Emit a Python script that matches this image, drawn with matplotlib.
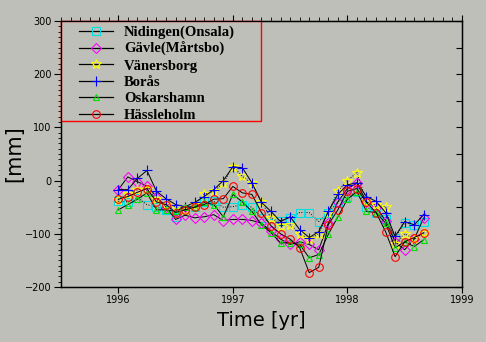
import numpy as np
import matplotlib
matplotlib.use('Agg')
import matplotlib.pyplot as plt
from matplotlib.ticker import MultipleLocator
from matplotlib.patches import Rectangle

# monthly samples, 1996.0 .. 1998.67
months = np.arange(33)
t = 1996 + months / 12.0

names = ['Nidingen(Onsala)', 'Gävle(Mårtsbo)', 'Vänersborg', 'Borås',
         'Oskarshamn', 'Hässleholm']

nidingen = [-39, -40, -32, -45, -50, -55, -68, -55, -50, -41, -39, -50, -49,
            -45, -50, -70, -80, -75, -70, -60, -60, -77, -60, -40, -30, -21,
            -49, -60, -73, -107, -79, -83, -77]
gavle = [-17, 7, -2, -10, -30, -50, -73, -65, -70, -68, -64, -75, -73, -73,
         -75, -80, -95, -110, -120, -115, -120, -130, -80, -40, -15, -5, -40,
         -50, -75, -115, -130, -110, -70]
vanersborg = [-36, -25, -17, -15, -35, -45, -49, -55, -45, -26, -20, -5, 26,
              8, -5, -40, -70, -85, -83, -100, -110, -100, -60, -20, 0, 15,
              -40, -45, -49, -120, -100, -110, -98]
boras = [-17, -17, 4, 19, -20, -34, -45, -49, -41, -30, -17, 0, 26, 24, -4,
         -41, -58, -77, -68, -92, -107, -96, -58, -26, -8, -4, -30, -39, -60,
         -105, -77, -83, -64]
oskarshamn = [-55, -45, -35, -23, -55, -55, -58, -49, -50, -41, -45, -68, -26,
              -40, -58, -83, -98, -117, -117, -120, -145, -139, -101, -68, -35,
              -21, -58, -60, -80, -126, -115, -124, -111]
hassleholm = [-35, -30, -22, -15, -40, -45, -60, -55, -50, -45, -35, -34, -11,
              -23, -26, -60, -85, -100, -110, -126, -173, -163, -83, -55, -20,
              -15, -41, -60, -96, -143, -115, -107, -98]

series = [nidingen, gavle, vanersborg, boras, oskarshamn, hassleholm]
colors = ['#00e0e0', '#ff00ff', '#ffff00', '#0000ff', '#00e000', '#ff0000']
markers = ['s', 'D', '*', '+', '^', 'o']
sizes = [5.5, 5, 7.5, 7.5, 5, 5.5]
styles = [':', '-', ':', '-', '-', '-']

bg = '#bebfb8'
fig = plt.figure(figsize=(4.86, 3.42), dpi=100, facecolor=bg)
ax = fig.add_axes([0.1255, 0.1608, 0.825, 0.7778], facecolor=bg)

for name, y, c, m, s, ls in zip(names, series, colors, markers, sizes, styles):
    ax.plot(t, y, color='black', lw=0.7, ls=ls)
    ax.plot(t, y, ls='none', marker=m, ms=s, mfc='none', mec=c, mew=0.8)
    ax.plot([], [], color='black', lw=0.9, marker=m, ms=s, mfc='none',
            mec=c, mew=0.8, label=name)

ax.set_xlim(1995.5, 1999)
ax.set_ylim(-200, 300)
ax.xaxis.set_major_locator(MultipleLocator(1))
ax.yaxis.set_major_locator(MultipleLocator(100))
ax.yaxis.set_minor_locator(MultipleLocator(10))
ax.xaxis.set_minor_locator(MultipleLocator(1 / 12))

ax.tick_params(axis='x', which='major', direction='out', length=4,
               labelsize=7, top=True, pad=2)
ax.tick_params(axis='x', which='minor', direction='out', length=3,
               bottom=False, top=True)
ax.tick_params(axis='y', which='major', direction='out', length=5,
               labelsize=7, right=False, pad=2)
ax.tick_params(axis='y', which='minor', direction='out', length=2.5,
               right=False)
for sp in ax.spines.values():
    sp.set_linewidth(1.0)

# right axis ticks pointing inward
ax2 = ax.twinx()
ax2.set_ylim(-200, 300)
ax2.yaxis.set_major_locator(MultipleLocator(50))
ax2.tick_params(axis='y', direction='in', length=4, labelright=False)

ax.set_xlabel('Time [yr]', fontsize=14, labelpad=4)
ax.set_ylabel('[mm]', fontsize=15, labelpad=0)

leg = ax.legend(loc='upper left', bbox_to_anchor=(0.035, 1.0),
                borderaxespad=0, frameon=False,
                prop={'family': 'Liberation Serif', 'weight': 'bold',
                      'size': 10.5},
                handlelength=2.3, handletextpad=0.75, labelspacing=0.22,
                borderpad=0.3, numpoints=1)
leg.set_zorder(5)

# red legend frame, 200 x 100 px from the upper left corner
box = Rectangle((0, 1 - 100 / 266), 200 / 401, 100 / 266,
                transform=ax.transAxes, facecolor=bg, edgecolor='red',
                lw=1.0, zorder=4, clip_on=False)
ax.add_patch(box)

fig.savefig('out.png', dpi=100, facecolor=bg)
